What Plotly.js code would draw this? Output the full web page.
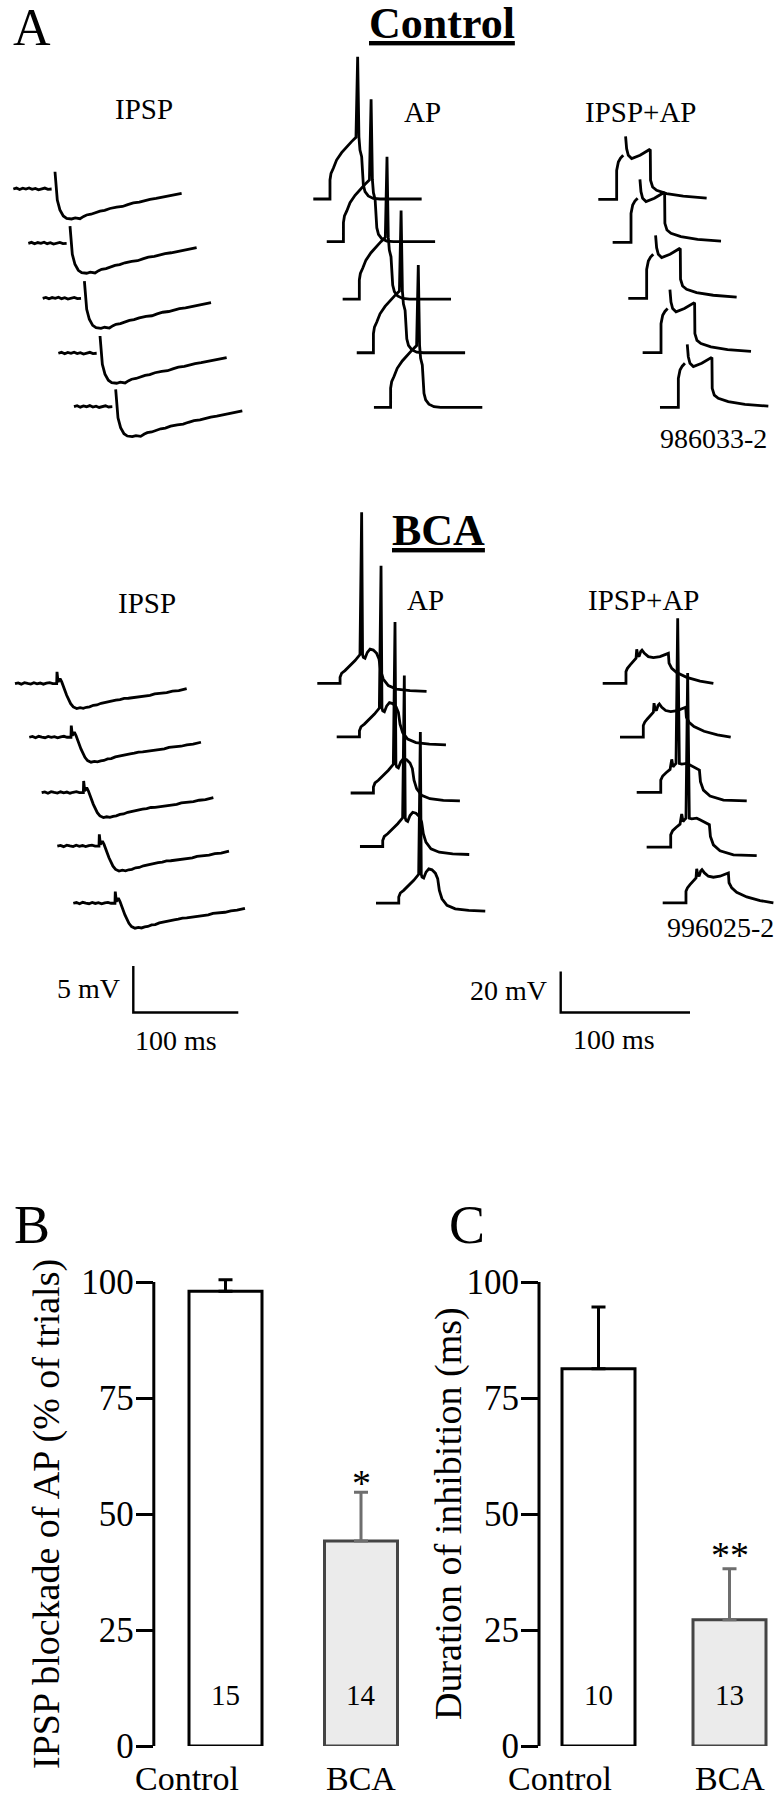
<!DOCTYPE html>
<html>
<head>
<meta charset="utf-8">
<script src="https://cdn.plot.ly/plotly-3.0.1.min.js"></script>
<style>
  body { margin: 0; background: #fff; }
  #plot_div { width: 778px; height: 1800px; }
</style>
</head>
<body>
<div id="plot_div"></div>
<script>
// ---- Panel A: sweep templates, time (ms) / potential (mV) from sweep start ----
// null breaks the line where the stimulus artifact was blanked
const ctrlIpspT = [0, 3, 6, 9, 12, 15, 18, 21, 24, 27, 30, 33, 36.5, null, 39.7, 40.7, 41.9, 44.4, 47.6, 50.8, 55.5, 59, 63.5, 67, 69.8, 74, 78, 82.6, 87, 92, 98.4, 104, 109, 114.3, 120, 125, 130.2, 136, 141, 146, 151, 156, 160.3];
const ctrlIpspV = [0, 0.1, -0.05, 0.08, 0, 0.12, -0.04, 0.06, -0.08, 0.05, 0.1, -0.03, 0, null, 1.86, 0.25, -1.19, -2.26, -2.91, -3.16, -3.23, -3.12, -3.2, -2.95, -2.8, -2.72, -2.55, -2.38, -2.3, -2.1, -1.95, -1.88, -1.68, -1.5, -1.42, -1.25, -1.12, -1.02, -0.92, -0.8, -0.7, -0.62, -0.46];

const ctrlApT = [0, 12.9, 12.9, 13.7, 15.5, 18, 21.9, 25.8, 29.6, 33, 34.3, 35.3, 36.1, 37.4, 38.7, 40, 42.5, 46.4, 51.6, 83.8];
const ctrlApV = [0, 0, 9.3, 12.5, 15, 19, 22.6, 25.5, 28, 30.1, 69.4, 30.2, 23.9, 20.6, 6.8, 3.6, 1.5, 0.3, 0, 0];

const ctrlComboT = [0, 14.2, 14.2, 15.5, 17.2, 19.3, null, 21.1, 21.9, 23.2, 25.8, 32.3, 39.4, 40.2, 40.4, 42, 45.1, 52.8, 65.7, 83.8];
const ctrlComboV = [0, 0, 14.1, 18.2, 20.1, 21.5, null, 30.7, 24.7, 21.5, 19.9, 21.5, 24.2, 23.9, 9.3, 6, 4.4, 2.8, 1.5, 0.6];

const bcaIpspT = [0, 3, 6, 9, 12, 15, 18, 21, 24, 27, 30, 33, 36, 39.7, 40, 41, 42.9, 44.5, 49.2, 53, 55.5, 58.8, 62, 65, 68, 71, 74.6, 78, 82, 87.3, 92, 96, 100, 104, 108, 112.7, 117, 122, 128.6, 133, 139, 144.5, 150, 156, 163.5];
const bcaIpspV = [0, 0.08, -0.06, 0.1, 0.02, -0.05, 0.09, -0.02, 0.06, -0.06, 0.04, 0.1, 0, 0, 1.26, 0.18, 0.54, 0.18, -1.26, -2.16, -2.51, -2.69, -2.6, -2.66, -2.55, -2.5, -2.34, -2.3, -2.12, -1.97, -1.9, -1.78, -1.72, -1.6, -1.58, -1.51, -1.38, -1.32, -1.26, -1.1, -1.05, -0.97, -0.82, -0.75, -0.54];

const bcaApT = [0, 17.6, 17.6, 18.8, 21.4, 25.3, 29.2, 33, 34.3, 35, 35.6, 36.9, 38.7, 40.8, 43.3, 45.9, 47.7, 49, 51, 54.9, 61.3, 71.7, 84.5];
const bcaApV = [0, 0, 2.9, 4.9, 6.2, 8.6, 11.1, 14, 83.4, 14, 12.7, 12.2, 15.1, 16.7, 16.2, 14.6, 11.9, 6.2, 2.1, -1.1, -2.8, -3.6, -3.9];

// IPSP+AP under BCA: sweeps without a spike, and sweeps where the AP escaped
const bcaComboT = [0, 18, 18, 19.1, 21.1, 23.7, 25.8, 26.3, 27.1, 28.1, 29.4, 30.4, 32.3, 35.3, 39.2, 44.3, 49, 50.8, 51.3, 53.4, 57.2, 65, 75.3, 85.6];
const bcaComboV = [0, 0, 5.7, 7.3, 8.9, 10.9, 12.2, 16.6, 13.8, 13, 15.5, 16.2, 14.6, 13, 12.5, 13, 14.1, 14.6, 9.8, 7.3, 5.2, 2.9, 1.1, 0];
const bcaSpikeT = [0, 18.6, 18.6, 20.1, 22.7, 25.8, 27.1, 28.1, 29.2, 30.4, 31.7, 33, 34.8, 38.7, 41.2, 46.4, 48.5, 49.3, 51.6, 56.7, 67.1, 85.1];
const bcaSpikeV = [0, 0, 6, 8, 9.6, 11.2, 16.1, 12.5, 13.3, 14.1, 84.9, 14.1, 13.8, 14.1, 13.3, 11.7, 10.9, 5.2, 1.1, -1.8, -3.8, -4.2];
const bcaComboFires = [false, false, true, true, false];

// display stagger of the 5 sweeps in each group (ms, mV)
const ctrlIpspShiftT = [0, 14.3, 28.0, 42.9, 57.8];
const ctrlIpspShiftV = [0, -5.85, -11.78, -17.7, -23.46];
const ctrlApShiftT = [0, 10.4, 22.7, 33.6, 46.9];
const ctrlApShiftV = [0, -20.8, -48.8, -75, -101.6];
const ctrlComboShiftT = [0, 11.1, 23.2, 34.3, 47.7];
const ctrlComboShiftV = [0, -21, -48.3, -74.8, -101.5];
const bcaIpspShiftT = [0, 13.6, 25.4, 40.3, 55.5];
const bcaIpspShiftV = [0, -5.78, -11.75, -17.51, -23.67];
const bcaApShiftT = [0, 15, 25.8, 33, 45.4];
const bcaApShiftV = [0, -26.1, -53.5, -79.6, -107.2];
const bcaComboShiftT = [0, 13.4, 26.3, 34, 46.4];
const bcaComboShiftV = [0, -26.3, -53.2, -79.9, -107.1];

// calibration bars [ms, mV]
const ipspBar = [100, 5];
const apBar = [100, 20];

// ---- Panels B and C ----
const groups = ['Control', 'BCA'];
const blockMean = [98, 44.2];
const blockSem = [2.5, 10.5];
const blockN = ['15', '14'];
const blockSig = ['', '*'];
const inhibMean = [81.3, 27.2];
const inhibSem = [13.3, 11];
const inhibN = ['10', '13'];
const inhibSig = ['', '**'];
const barTicks = [0, 25, 50, 75, 100];

// ---- layout ----
const W = 778, H = 1800;
const SERIF = '"Liberation Serif", "Times New Roman", Times, serif';
const IPSP_SCALE = {ms: 1.05, mv: 9.28};   // px per ms, px per mV
const AP_SCALE = {ms: 1.293, mv: 2.05};

const traces = [];
const layout = {
    width: W, height: H,
    margin: {l: 0, r: 0, t: 0, b: 0},
    paper_bgcolor: '#fff',
    plot_bgcolor: 'rgba(0,0,0,0)',
    showlegend: false,
    font: {family: SERIF, color: '#000'},
    annotations: [],
    shapes: [],
};

let axisCount = 0;
function newAxisId(){
    axisCount++;
    return axisCount === 1 ? '' : String(axisCount);
}

// full-page overlay axes whose data origin sits at a given pixel
function sweepAxes(origin, scale){
    const n = newAxisId();
    const [ox, oy] = origin;
    const xa = {domain: [0, 1], range: [-ox / scale.ms, (W - ox) / scale.ms], visible: false, anchor: 'y' + n};
    const ya = {domain: [0, 1], range: [-(H - oy) / scale.mv, oy / scale.mv], visible: false, anchor: 'x' + n};
    if (n) { xa.overlaying = 'x'; ya.overlaying = 'y'; }
    layout['xaxis' + n] = xa;
    layout['yaxis' + n] = ya;
    return {x: 'x' + n, y: 'y' + n};
}

function line(ax, x, y, width=2.8){
    traces.push({
        x, y, xaxis: ax.x, yaxis: ax.y,
        type: 'scatter', mode: 'lines',
        line: {color: '#000', width},
        connectgaps: false, hoverinfo: 'skip',
    });
}

function addSweeps(origin, scale, shiftT, shiftV, templateFor){
    const ax = sweepAxes(origin, scale);
    shiftT.forEach((dt, k) => {
        const [tArr, vArr] = templateFor(k);
        line(ax,
            tArr.map(t => t === null ? null : t + dt),
            vArr.map(v => v === null ? null : v + shiftV[k]));
    });
}

addSweeps([13.3, 189], IPSP_SCALE, ctrlIpspShiftT, ctrlIpspShiftV, () => [ctrlIpspT, ctrlIpspV]);
addSweeps([313.3, 199], AP_SCALE, ctrlApShiftT, ctrlApShiftV, () => [ctrlApT, ctrlApV]);
addSweeps([598.3, 199.3], AP_SCALE, ctrlComboShiftT, ctrlComboShiftV, () => [ctrlComboT, ctrlComboV]);
addSweeps([15, 683.6], IPSP_SCALE, bcaIpspShiftT, bcaIpspShiftV, () => [bcaIpspT, bcaIpspV]);
addSweeps([317.3, 683.3], AP_SCALE, bcaApShiftT, bcaApShiftV, () => [bcaApT, bcaApV]);
addSweeps([602.7, 683.3], AP_SCALE, bcaComboShiftT, bcaComboShiftV,
    k => bcaComboFires[k] ? [bcaSpikeT, bcaSpikeV] : [bcaComboT, bcaComboV]);

// calibration bars
const ipspBarAx = sweepAxes([133.3, 1012.5], IPSP_SCALE);
line(ipspBarAx, [0, 0, ipspBar[0]], [ipspBar[1], 0, 0], 2.4);
const apBarAx = sweepAxes([560.7, 1012.5], AP_SCALE);
line(apBarAx, [0, 0, apBar[0]], [apBar[1], 0, 0], 2.4);

// ---- text helpers ----
function label(text, xPx, yPx, size, extra={}){
    layout.annotations.push(Object.assign({
        text, x: xPx / W, y: 1 - yPx / H, xref: 'paper', yref: 'paper',
        showarrow: false, xanchor: 'center', yanchor: 'middle',
        font: {family: SERIF, size, color: '#000'},
    }, extra));
}

label('A', 32, 28, 52);
label('<b><u>Control</u></b>', 442, 23, 44);
label('<b><u>BCA</u></b>', 438, 531, 44);
label('IPSP', 144, 109, 29);
label('AP', 422, 112, 29);
label('IPSP+AP', 640, 112, 29);
label('IPSP', 147, 603, 29);
label('AP', 425, 600, 29);
label('IPSP+AP', 643, 600, 29);
label('986033-2', 713, 438, 28);
label('996025-2', 720, 927, 28);
label('5 mV', 122, 988, 28, {xanchor: 'right'});
label('100 ms', 133, 1040, 28, {xanchor: 'left'});
label('20 mV', 549, 990, 28, {xanchor: 'right'});
label('100 ms', 571, 1039, 28, {xanchor: 'left'});

// ---- bar panels ----
const ZERO_PX = 1746, HUNDRED_PX = 1282;
const PX_PER_UNIT = (ZERO_PX - HUNDRED_PX) / 100;
const Y_TOP = 104;

function barPanel({letter, letterPx, axisPx, centersPx, rightPx, groupLabelPx, mean, sem, n, sig, sigShift, title, titleX}){
    const id = newAxisId();
    const xName = 'x' + id, yName = 'y' + id;
    const unit = centersPx[1] - centersPx[0];
    const barWidth = 73 / unit;
    layout['xaxis' + id] = {
        domain: [axisPx / W, rightPx / W],
        range: [(axisPx - centersPx[0]) / unit, (rightPx - centersPx[0]) / unit],
        anchor: yName, visible: false, fixedrange: true,
    };
    layout['yaxis' + id] = {
        domain: [(H - ZERO_PX) / H, (H - ZERO_PX + Y_TOP * PX_PER_UNIT) / H],
        range: [0, Y_TOP], anchor: xName,
        showline: false, showgrid: false, zeroline: false,
        tickvals: barTicks, ticks: 'outside', ticklen: 17, tickwidth: 3, tickcolor: '#000',
        tickfont: {family: SERIF, size: 35, color: '#000'},
        ticklabelstandoff: -5, fixedrange: true,
    };
    layout.shapes.push({
        type: 'line', xref: xName + ' domain', yref: yName,
        x0: 0, x1: 0, y0: 0, y1: 100,
        line: {color: '#000', width: 3},
    });

    const styles = [
        {fill: '#ffffff', edge: '#000000', err: '#000000'},
        {fill: '#ebebeb', edge: '#444444', err: '#6e6e6e'},
    ];
    mean.forEach((m, i) => {
        traces.push({
            type: 'bar', x: [i], y: [m], width: barWidth,
            xaxis: xName, yaxis: yName,
            marker: {color: styles[i].fill, line: {color: styles[i].edge, width: 3}},
            error_y: {type: 'data', symmetric: false, array: [sem[i]], arrayminus: [0],
                      color: styles[i].err, thickness: 3, width: 7},
            hoverinfo: 'skip',
        });
        layout.annotations.push({
            text: n[i], x: i, y: 0, xref: xName, yref: yName,
            yanchor: 'middle', yshift: 11 * PX_PER_UNIT, showarrow: false,
            font: {family: SERIF, size: 29, color: '#000'},
        });
        if (sig[i]) layout.annotations.push({
            text: sig[i], x: i, y: m + sem[i], xref: xName, yref: yName,
            yanchor: 'bottom', yshift: sigShift, showarrow: false,
            font: {family: SERIF, size: 38, color: '#000'},
        });
        label(groups[i], groupLabelPx[i], 1778, 34);
    });

    label(letter, letterPx[0], letterPx[1], 54);
    label(title, titleX, (ZERO_PX + HUNDRED_PX) / 2, 38, {textangle: -90});
}

barPanel({
    letter: 'B', letterPx: [32, 1225], axisPx: 153.8, centersPx: [225.5, 361], rightPx: 420,
    groupLabelPx: [187, 361],
    mean: blockMean, sem: blockSem, n: blockN, sig: blockSig, sigShift: -14,
    title: 'IPSP blockade of AP (% of trials)', titleX: 46,
});
barPanel({
    letter: 'C', letterPx: [467, 1225], axisPx: 539, centersPx: [598.5, 729.5], rightPx: 778,
    groupLabelPx: [560, 729.5],
    mean: inhibMean, sem: inhibSem, n: inhibN, sig: inhibSig, sigShift: -9,
    title: 'Duration of inhibition (ms)', titleX: 448,
});

Plotly.newPlot('plot_div', traces, layout, {displayModeBar: false, staticPlot: true});
</script>
</body>
</html>
